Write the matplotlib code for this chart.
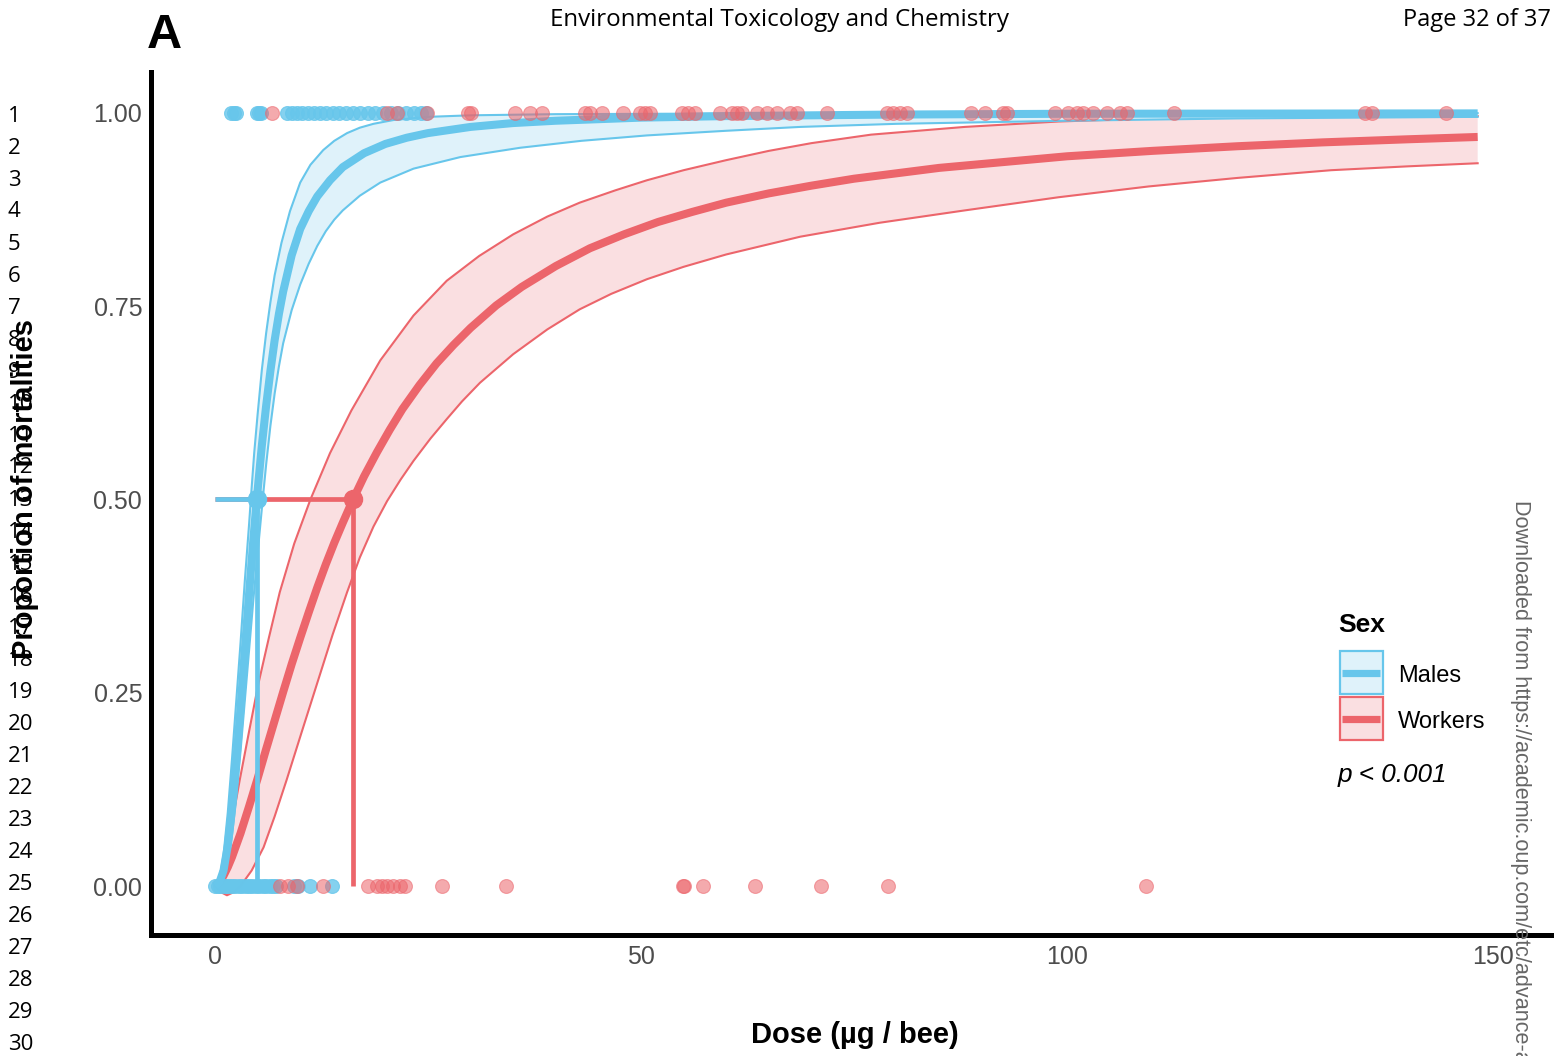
import numpy as np
import matplotlib
matplotlib.use('Agg')
import matplotlib.pyplot as plt
from matplotlib.patches import Rectangle
from matplotlib.lines import Line2D

# ---------------- data ----------------
# Males fitted curve and confidence band
males_dose = [0, 0.5, 1, 1.5, 2, 2.5, 3, 3.5, 4, 4.5, 4.9, 5.5, 6, 6.5, 7, 7.5, 8, 9, 10,
              11, 12, 13.5, 15, 17.5, 20, 22.5, 25, 30, 35, 40, 50, 60, 80, 100, 148.2]
males_fit = [0, 0.004, 0.02, 0.052, 0.1, 0.161, 0.231, 0.305, 0.378, 0.448, 0.5, 0.57,
             0.621, 0.666, 0.706, 0.74, 0.769, 0.816, 0.85, 0.873, 0.892, 0.913, 0.93, 0.948,
             0.96, 0.968, 0.974, 0.982, 0.987, 0.99, 0.994, 0.996, 0.998, 0.999, 0.9995]
males_up_dose = [0, 0.5, 1, 1.5, 2, 2.5, 3, 3.5, 4, 4.2, 4.6, 5, 5.5, 6, 6.5, 7, 7.8, 8.8,
                 10, 11.2, 12.7, 14, 15.5, 17, 18.6, 21, 25, 30, 40, 60, 148.2]
males_up = [0, 0.008, 0.04, 0.095, 0.165, 0.24, 0.315, 0.395, 0.468, 0.5, 0.56, 0.61, 0.668,
            0.715, 0.755, 0.79, 0.832, 0.873, 0.91, 0.933, 0.952, 0.964, 0.974, 0.981, 0.986,
            0.991, 0.995, 0.997, 0.9985, 0.9993, 0.9998]
males_lo_dose = [0, 0.5, 1, 1.5, 2, 2.5, 3, 3.5, 4, 4.5, 5, 5.6, 6, 6.5, 7, 7.5, 8, 9, 10,
                 11, 12, 13, 14, 15, 17, 19.4, 23.3, 28.8, 35.8, 43, 50.7, 60, 68.7, 80, 100,
                 120, 148.2]
males_lo = [0, 0.002, 0.01, 0.03, 0.066, 0.115, 0.175, 0.24, 0.305, 0.37, 0.43, 0.5, 0.545,
            0.595, 0.637, 0.672, 0.702, 0.745, 0.778, 0.805, 0.828, 0.847, 0.862, 0.874,
            0.893, 0.91, 0.928, 0.943, 0.955, 0.964, 0.971, 0.977, 0.982, 0.986, 0.99, 0.993,
            0.995]

# Workers fitted curve and confidence band
workers_dose = [0, 0.5, 1, 1.5, 2, 3, 4, 5, 6, 7, 8, 9, 10, 11, 12, 13, 14, 15, 16.2, 17.5,
                19, 20.5, 22, 24, 26, 28, 30, 33, 36, 40, 44, 48, 52, 56, 60, 65, 70, 75, 80,
                85, 90, 95, 100, 110, 120, 130, 140, 148.2]
workers_fit = [0, 0.0045, 0.0132, 0.0244, 0.0376, 0.0683, 0.103, 0.139, 0.177, 0.214, 0.251,
               0.287, 0.321, 0.354, 0.386, 0.416, 0.444, 0.47, 0.5, 0.53, 0.561, 0.59, 0.617,
               0.648, 0.676, 0.7, 0.722, 0.751, 0.775, 0.802, 0.825, 0.843, 0.859, 0.872,
               0.884, 0.896, 0.906, 0.915, 0.922, 0.929, 0.934, 0.939, 0.944, 0.951, 0.957,
               0.962, 0.966, 0.969]
workers_up_dose = [0, 0.5, 1, 1.5, 2, 2.9, 4, 5.1, 6.3, 7.6, 9.3, 11.2, 13.5, 16, 19.4, 23.3,
                   27.2, 31, 35, 39, 42.8, 47, 50.7, 55, 60, 65, 70, 77, 88, 99, 110, 125,
                   148.2]
workers_up = [0, 0.012, 0.032, 0.055, 0.082, 0.137, 0.2, 0.262, 0.32, 0.38, 0.443, 0.5, 0.56,
              0.615, 0.68, 0.738, 0.783, 0.815, 0.843, 0.866, 0.884, 0.9, 0.913, 0.926, 0.939,
              0.951, 0.961, 0.972, 0.982, 0.989, 0.993, 0.995, 0.996]
workers_lo_dose = [0, 0.7, 1.4, 2.2, 3, 4.3, 5.7, 7, 8.4, 10.2, 12.1, 13.8, 15.5, 17, 18.6,
                   20.2, 21.8, 23.3, 25.3, 27.2, 29, 31.1, 35, 39, 42.8, 46.5, 50.7, 55, 60,
                   68.7, 78, 88, 99, 109.6, 120, 131, 140, 148.2]
workers_lo = [0, -0.008, -0.012, -0.008, 0.0, 0.02, 0.05, 0.09, 0.137, 0.2, 0.266, 0.325,
              0.38, 0.425, 0.465, 0.498, 0.526, 0.55, 0.579, 0.604, 0.627, 0.651, 0.688, 0.72,
              0.746, 0.766, 0.785, 0.801, 0.817, 0.84, 0.858, 0.874, 0.891, 0.905, 0.916,
              0.926, 0.931, 0.935]

# LD50 estimates
males_ld50 = 4.9
workers_ld50 = 16.2

# Observations (1 = dead, 0 = alive)
males_dead = [1.9, 2.2, 2.5, 4.9, 5.2, 5.4, 8.5, 9.0, 9.6, 10.2, 10.9, 11.6, 12.3, 13.0, 13.8,
              14.6, 15.4, 16.2, 17.0, 17.9, 18.8, 19.7, 20.6, 21.5, 22.4, 23.3, 24.2, 24.8]
males_alive = [0, 0.3, 0.6, 1.0, 1.3, 1.6, 2.0, 2.4, 2.8, 3.2, 3.6, 4.0, 4.4, 4.8, 5.2, 5.6,
               6.0, 6.4, 6.8, 7.2, 9.3, 9.8, 11.1, 13.7]
workers_dead = [6.65, 20.2, 21.4, 24.9, 29.7, 30.0, 35.2, 37.0, 38.4, 43.4, 44.0, 45.4, 47.9,
                49.9, 50.5, 51.1, 54.8, 55.5, 56.3, 59.3, 60.7, 61.3, 61.9, 63.6, 64.8, 66.0,
                67.5, 68.3, 71.8, 78.9, 79.6, 80.4, 81.2, 88.7, 90.4, 92.5, 93.0, 98.6, 100.1,
                101.2, 101.9, 103.1, 104.7, 106.2, 107.0, 112.6, 135.0, 135.8, 144.5]
workers_alive = [7.6, 8.6, 9.6, 12.7, 18.0, 19.0, 19.6, 20.2, 20.9, 21.7, 22.3, 26.6, 34.2,
                 54.9, 55.0, 57.3, 63.4, 71.1, 79.0, 109.3]

y_ticks = [0.00, 0.25, 0.50, 0.75, 1.00]
y_ticklabels = ['0.00', '0.25', '0.50', '0.75', '1.00']
x_ticks = [0, 50, 100, 150]
x_ticklabels = ['0', '50', '100', '150']
legend_labels = ['Males', 'Workers']

# ---------------- styling ----------------
W, H = 1559, 1056
BLUE = '#67C6EB'
RED = '#EC656B'
BLUE_FILL = '#DFF2FA'
RED_FILL = '#FADFE1'
GREY = '#4D4D4D'

plt.rcParams['font.family'] = ['Liberation Sans', 'DejaVu Sans']

fig = plt.figure(figsize=(W / 100, H / 100), dpi=100)
L, R, T, B = 150.5, 1551, 72, 935
ax = fig.add_axes([L / W, 1 - B / H, (R - L) / W, (B - T) / H])
# data -> pixel: px = 215 + 8.52*dose ; py = 886 - 773*p
ax.set_xlim((L - 215) / 8.52, (R - 215) / 8.52)
ax.set_ylim((886 - B) / 773, (886 - T) / 773)

def ribbon(xu, yu, xl, yl, fill, col, z):
    xs = list(xu) + list(xl)[::-1]
    ys = list(yu) + list(yl)[::-1]
    ax.fill(xs, ys, color=fill, lw=0, zorder=z)
    ax.plot(xu, yu, color=col, lw=1.5, zorder=z + 0.1, solid_joinstyle='round')
    ax.plot(xl, yl, color=col, lw=1.5, zorder=z + 0.1, solid_joinstyle='round')

ribbon(workers_up_dose, workers_up, workers_lo_dose, workers_lo, RED_FILL, RED, 1)
ribbon(males_up_dose, males_up, males_lo_dose, males_lo, BLUE_FILL, BLUE, 2)
ax.plot(workers_dose, workers_fit, color=RED, lw=5.8, zorder=3, solid_capstyle='butt',
        solid_joinstyle='round')
ax.plot(males_dose, males_fit, color=BLUE, lw=5.8, zorder=3.1, solid_capstyle='butt',
        solid_joinstyle='round')

# LD50 guides
ax.plot([0, workers_ld50], [0.5, 0.5], color=RED, lw=3.4, zorder=4, solid_capstyle='butt')
ax.plot([workers_ld50, workers_ld50], [0.5, 0], color=RED, lw=3.4, zorder=4, solid_capstyle='butt')
ax.plot([0, males_ld50], [0.5, 0.5], color=BLUE, lw=3.4, zorder=4.1, solid_capstyle='butt')
ax.plot([males_ld50, males_ld50], [0.5, 0], color=BLUE, lw=3.4, zorder=4.1, solid_capstyle='butt')
ax.plot([workers_ld50], [0.5], 'o', color=RED, ms=13, zorder=4.2)
ax.plot([males_ld50], [0.5], 'o', color=BLUE, ms=13, zorder=4.3)

# observations
ax.scatter(males_dead, [1] * len(males_dead), s=100, color=BLUE, alpha=0.8, lw=0.8,
           edgecolors=BLUE, zorder=5)
ax.scatter(males_alive, [0] * len(males_alive), s=100, color=BLUE, alpha=0.8, lw=0.8,
           edgecolors=BLUE, zorder=5)
ax.scatter(workers_dead, [1] * len(workers_dead), s=100, color=RED, alpha=0.55, lw=0.8,
           edgecolors=RED, zorder=6)
ax.scatter(workers_alive, [0] * len(workers_alive), s=100, color=RED, alpha=0.55, lw=0.8,
           edgecolors=RED, zorder=6)

# axes styling
for s in ['top', 'right']:
    ax.spines[s].set_visible(False)
for s in ['left', 'bottom']:
    ax.spines[s].set_linewidth(3.6)
    ax.spines[s].set_color('black')
ax.set_xticks(x_ticks)
ax.set_xticklabels(x_ticklabels)
ax.set_yticks(y_ticks)
ax.set_yticklabels(y_ticklabels)
ax.tick_params(axis='both', length=0, labelsize=18, labelcolor=GREY)
ax.tick_params(axis='y', pad=6)
ax.tick_params(axis='x', pad=7)
ax.set_facecolor('white')

def fx(px):
    return px / W

def fy(py):
    return 1 - py / H

fig.text(fx(855), fy(1035), 'Dose (µg / bee)', ha='center', va='center', fontsize=21,
         fontweight='bold')
fig.text(fx(25), fy(489), 'Proportion of mortalities', ha='center', va='center', fontsize=21,
         fontweight='bold', rotation=90)

# legend (drawn by hand)
fig.text(fx(1338), fy(632), 'Sex', ha='left', va='baseline', fontsize=19, fontweight='bold')
for i, (lab, col, fill) in enumerate(zip(legend_labels, [BLUE, RED], [BLUE_FILL, RED_FILL])):
    top = 651 + i * 46
    fig.add_artist(Rectangle((fx(1339.5), fy(top + 43)), 43 / W, 43 / H,
                             transform=fig.transFigure, facecolor=fill, edgecolor=col, lw=1.6))
    fig.add_artist(Line2D([fx(1342), fx(1380)], [fy(top + 22), fy(top + 22)],
                          transform=fig.transFigure, color=col, lw=5.2,
                          solid_capstyle='butt'))
    fig.text(fx(1398), fy(top + 31), lab, ha='left', va='baseline', fontsize=17)
fig.text(fx(1338), fy(782), 'p < 0.001', ha='left', va='baseline', fontsize=18.8,
         style='italic')

# page furniture
fig.text(fx(164), fy(35), 'A', ha='center', va='center', fontsize=35, fontweight='bold')
fig.text(fx(780), fy(20), 'Environmental Toxicology and Chemistry', ha='center', va='center',
         fontsize=17.4, family=['Open Sans', 'DejaVu Sans'])
fig.text(fx(1551), fy(20), 'Page 32 of 37', ha='right', va='center', fontsize=17,
         family=['Open Sans', 'DejaVu Sans'])
for i in range(30):
    fig.text(fx(8), fy(116 + 32.0 * i), str(i + 1), ha='left', va='center', fontsize=16,
             family=['Open Sans', 'DejaVu Sans'])
fig.text(fx(1521), fy(500), 'Downloaded from https://academic.oup.com/etc/advance-article',
         ha='center', va='top', rotation=270, fontsize=15.6, color='#666666')

fig.savefig('out.png', dpi=100, facecolor='white')
